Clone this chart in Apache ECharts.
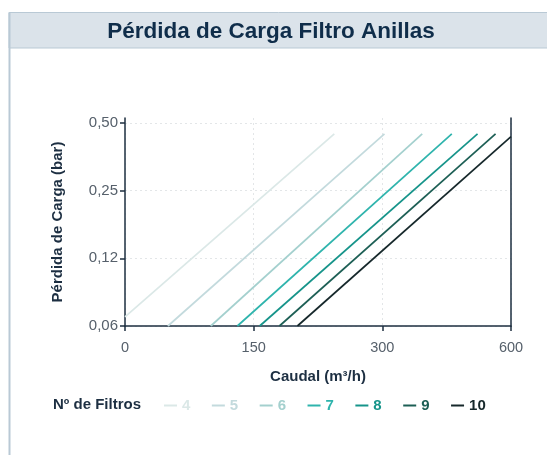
<!DOCTYPE html>
<html>
<head>
<meta charset="utf-8">
<script src="https://cdn.jsdelivr.net/npm/echarts@6/dist/echarts.min.js"></script>
<style>
html,body{margin:0;padding:0;background:#fff;}
#c{width:547px;height:455px;}
</style>
</head>
<body>
<div id="c"></div>
<script>
// Tick labels (axes are evenly spaced between these ticks)
const xTicks = [0, 150, 300, 600];
const yTicks = [0.06, 0.12, 0.25, 0.50];
const yTickLabels = ['0,06', '0,12', '0,25', '0,50'];
// Series: number of filters
const seriesNames = ['4', '5', '6', '7', '8', '9', '10'];
const startFlow = [0, 50, 100, 131, 157, 180, 201];
const startLoss = [0.068, 0.06, 0.06, 0.06, 0.06, 0.06, 0.06];
const endFlow = [244, 305, 393, 462, 522, 564, 600];
const endLoss = [0.46, 0.46, 0.46, 0.46, 0.46, 0.46, 0.45];
const colors = ['#dbe8e7', '#c3dadd', '#a4d0ce', '#2fb4ad', '#16948a', '#1d5f55', '#16282b'];

function toPos(v, ticks) {
  for (let i = 0; i < ticks.length - 1; i++) {
    if (v <= ticks[i + 1] || i === ticks.length - 2) {
      return i + (v - ticks[i]) / (ticks[i + 1] - ticks[i]);
    }
  }
  return 0;
}

const chart = echarts.init(document.getElementById('c'));
const axisColor = '#1e2f40';
const labelColor = '#56606b';
const font = 'Liberation Sans, Arial, sans-serif';
const idx = [0, 1, 2, 3];

const series = seriesNames.map((n, i) => ({
  name: n,
  type: 'line',
  symbol: 'none',
  silent: true,
  lineStyle: { color: colors[i], width: 1.7 },
  itemStyle: { color: colors[i] },
  data: [
    [toPos(startFlow[i], xTicks), toPos(startLoss[i], yTicks)],
    [toPos(endFlow[i], xTicks), toPos(endLoss[i], yTicks)]
  ]
}));

chart.setOption({
  animation: false,
  textStyle: { fontFamily: font },
  graphic: [
    { type: 'rect', shape: { x: 9, y: 12.5, width: 540, height: 35.5 }, style: { fill: '#dbe3ea', stroke: '#b9c9d5', lineWidth: 1 } },
    { type: 'line', shape: { x1: 9.5, y1: 12.5, x2: 9.5, y2: 455 }, style: { stroke: '#b9c9d5', lineWidth: 2 } },
    { type: 'text', x: 271, y: 32, style: { text: 'Pérdida de Carga Filtro Anillas', font: 'bold 22.5px ' + font, fill: '#0f2d4a', textAlign: 'center', textVerticalAlign: 'middle' } },
    { type: 'text', x: 53, y: 405, style: { text: 'Nº de Filtros', font: 'bold 15px ' + font, fill: '#1d2f42', textAlign: 'left', textVerticalAlign: 'middle' } }
  ],
  legend: {
    left: 159,
    top: 393,
    icon: 'rect',
    itemWidth: 13,
    itemHeight: 2,
    itemGap: 21.5,
    selectedMode: false,
    data: seriesNames.map((n, i) => ({ name: n, textStyle: { color: colors[i], fontWeight: 'bold', fontSize: 15, fontFamily: font } })),
    textStyle: { padding: [0, 0, 0, 0] }
  },
  grid: { left: 125, right: 36, top: 118, bottom: 129, containLabel: false },
  xAxis: {
    type: 'value', min: 0, max: 3, interval: 1,
    name: 'Caudal (m³/h)', nameLocation: 'middle', nameGap: 43,
    nameTextStyle: { fontWeight: 'bold', fontSize: 15, color: '#1d2f42', fontFamily: font },
    axisLine: { show: true, lineStyle: { color: axisColor, width: 1.5 } },
    axisTick: { show: true, length: 5, lineStyle: { color: axisColor, width: 1.5 } },
    axisLabel: { margin: 14, color: labelColor, fontSize: 14.5, fontFamily: font, formatter: v => String(xTicks[Math.round(v)]) },
    splitLine: { show: true, lineStyle: { color: '#e3e6e8', type: [2, 3], width: 1 } }
  },
  yAxis: [{
    type: 'value', min: 0, max: 3.074,
    name: 'Pérdida de Carga (bar)', nameLocation: 'middle', nameGap: 60,
    nameTextStyle: { fontWeight: 'bold', fontSize: 15, color: '#1d2f42', fontFamily: font },
    axisLine: { show: true, lineStyle: { color: axisColor, width: 1.5 } },
    axisTick: { show: true, length: 5, customValues: idx, lineStyle: { color: axisColor, width: 1.5 } },
    axisLabel: { margin: 7, customValues: idx, color: labelColor, fontSize: 15, fontFamily: font, formatter: v => yTickLabels[Math.round(v)] },
    splitLine: { show: true, lineStyle: { color: '#e3e6e8', type: [2, 3], width: 1 } }
  }, {
    type: 'value', min: 0, max: 3.074, position: 'right',
    axisLine: { show: true, lineStyle: { color: axisColor, width: 1.5 } },
    axisTick: { show: false }, axisLabel: { show: false }, splitLine: { show: false }
  }],
  series: series
});
</script>
</body>
</html>
